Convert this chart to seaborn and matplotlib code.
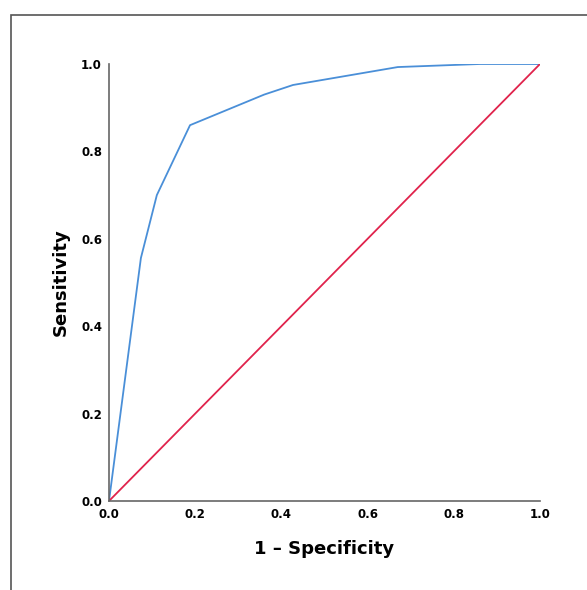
import numpy as np
import pandas as pd
import matplotlib
matplotlib.use("Agg")
import matplotlib.pyplot as plt
import seaborn as sns
from matplotlib.patches import Rectangle

# points de la courbe ROC
fpr = [0.0, 0.074, 0.111, 0.188, 0.36, 0.427, 0.67, 0.86, 1.0]
tpr = [0.0, 0.556, 0.70, 0.86, 0.93, 0.952, 0.993, 1.0, 1.0]
ref = [0.0, 1.0]
ticks = [0.0, 0.2, 0.4, 0.6, 0.8, 1.0]

sns.set_theme(style="white")
plt.rcParams['font.family'] = ['DejaVu Sans']

fig = plt.figure(figsize=(5.87, 5.90), dpi=100)
ax = fig.add_axes([109/587, 1 - 501/590, (540 - 109)/587, (501 - 64)/590])

df = pd.DataFrame({'fpr': fpr, 'tpr': tpr})
sns.lineplot(data=df, x='fpr', y='tpr', ax=ax, color='#4a8fd8', lw=1.3, sort=False, estimator=None)
sns.lineplot(x=ref, y=ref, ax=ax, color='#e0234c', lw=1.3)

ax.set_xlim(0, 1)
ax.set_ylim(0, 1)
ax.set_xticks(ticks)
ax.set_yticks(ticks)
ax.set_xticklabels([f"{t:.1f}" for t in ticks], fontsize=8.5, fontweight='bold', color='black')
ax.set_yticklabels([f"{t:.1f}" for t in ticks], fontsize=8.5, fontweight='bold', color='black')
ax.tick_params(length=0, pad=5)
ax.set_xlabel("1 – Specificity", fontsize=13, fontweight='bold', labelpad=14, color='black')
ax.set_ylabel("Sensitivity", fontsize=13, fontweight='bold', labelpad=8, color='black')

for s in ['top', 'right']:
    ax.spines[s].set_visible(False)
for s in ['left', 'bottom']:
    ax.spines[s].set_color('#666666')
    ax.spines[s].set_linewidth(1.2)

# cadre autour de la figure
fig.patches.append(Rectangle((11/587, -0.1), 1.2, 1 - 15/590 + 0.1, transform=fig.transFigure,
                             fill=False, edgecolor='#555555', lw=1.2))

fig.savefig("out.png", dpi=100)
